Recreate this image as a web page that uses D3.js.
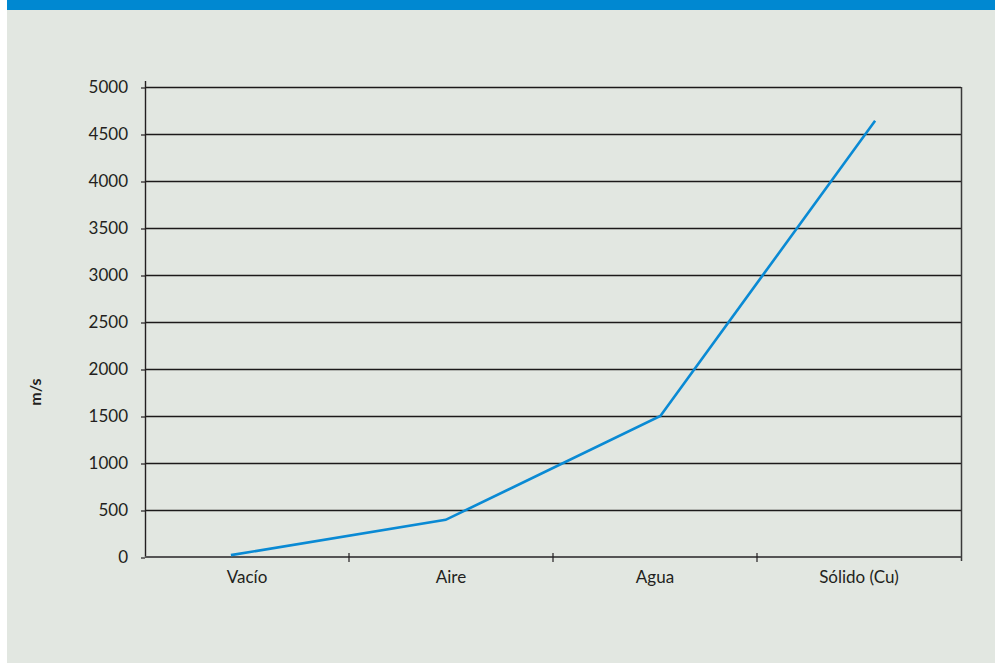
<!DOCTYPE html>
<html>
<head>
<meta charset="utf-8">
<script src="https://cdn.jsdelivr.net/npm/d3@7"></script>
<style>
  html, body { margin: 0; padding: 0; background: #ffffff; }
  svg { display: block; }
  text { font-family: Lato, "Open Sans", sans-serif; fill: #231f20; }
</style>
</head>
<body>
<script>
// Velocidad del sonido según el medio
const categories = ["Vacío", "Aire", "Agua", "Sólido (Cu)"];
const speeds = [20, 395, 1500, 4640];
const yTicks = [0, 500, 1000, 1500, 2000, 2500, 3000, 3500, 4000, 4500, 5000];
const yLabel = "m/s";

const W = 995, H = 663;
const margin = { left: 145, right: 34, top: 87, bottom: 106 };
const innerW = W - margin.left - margin.right;
const innerH = H - margin.top - margin.bottom;
const FONT = "Lato, 'Open Sans', sans-serif";

const svg = d3.select("body").append("svg")
  .attr("width", W).attr("height", H);

// panel background and top band
svg.append("rect").attr("x", 7).attr("y", 0).attr("width", W - 7).attr("height", H)
  .attr("fill", "#e2e7e1");
svg.append("rect").attr("x", 7).attr("y", 0).attr("width", W - 7).attr("height", 10)
  .attr("fill", "#0088d1");

// category bands (labels, separators) and points of the series
const x = d3.scaleBand().domain(categories).range([0, innerW]);
const xp = d3.scalePoint().domain(categories).range([0, innerW]).padding(0.4);
const y = d3.scaleLinear().domain([0, 5000]).range([innerH, 0]);

const g = svg.append("g").attr("transform", `translate(${margin.left},${margin.top})`);

// horizontal gridlines
g.append("g").selectAll("line").data(yTicks.filter(d => d > 0)).join("line")
  .attr("x1", 0).attr("x2", innerW)
  .attr("y1", d => y(d) + 0.5).attr("y2", d => y(d) + 0.5)
  .attr("stroke", "#1c1a1a").attr("stroke-width", 1.3);

// right border
g.append("line").attr("x1", innerW + 0.5).attr("x2", innerW + 0.5)
  .attr("y1", 0).attr("y2", innerH + 4)
  .attr("stroke", "#3a3a3a").attr("stroke-width", 1.5);

// y axis
const yAxis = g.append("g")
  .call(d3.axisLeft(y).tickValues(yTicks).tickSize(4).tickPadding(13).tickFormat(d3.format("d")));
yAxis.select(".domain").remove();
yAxis.selectAll(".tick line").attr("stroke", "#231f20").attr("stroke-width", 1.2)
  .attr("transform", "translate(0,0.5)");
yAxis.selectAll(".tick text")
  .attr("font-size", 17).attr("fill", "#231f20").style("font-family", FONT);
g.append("line").attr("x1", 0.5).attr("x2", 0.5).attr("y1", -6).attr("y2", innerH)
  .attr("stroke", "#231f20").attr("stroke-width", 1.4);

// x axis
const xAxis = g.append("g").attr("transform", `translate(0,${innerH})`)
  .call(d3.axisBottom(x).tickSize(0).tickPadding(14));
xAxis.select(".domain").remove();
xAxis.selectAll(".tick text")
  .attr("font-size", 17).attr("fill", "#231f20").style("font-family", FONT);
g.append("line").attr("x1", 0).attr("x2", innerW).attr("y1", innerH).attr("y2", innerH)
  .attr("stroke", "#555555").attr("stroke-width", 2);
// boundary ticks between categories
g.append("g").selectAll("line").data(categories.slice(1)).join("line")
  .attr("x1", d => x(d)).attr("x2", d => x(d))
  .attr("y1", innerH - 4).attr("y2", innerH + 5)
  .attr("stroke", "#231f20").attr("stroke-width", 1.2);

// y label
svg.append("text")
  .attr("transform", `translate(41,392) rotate(-90)`)
  .attr("text-anchor", "middle")
  .attr("font-size", 16).attr("font-weight", "bold")
  .text(yLabel);

// series line
const line = d3.line()
  .x((d, i) => xp(categories[i]))
  .y(d => y(d));
g.append("path").datum(speeds)
  .attr("d", line)
  .attr("fill", "none")
  .attr("stroke", "#0a8ad4")
  .attr("stroke-width", 2.6)
  .attr("stroke-linejoin", "miter");
</script>
</body>
</html>
